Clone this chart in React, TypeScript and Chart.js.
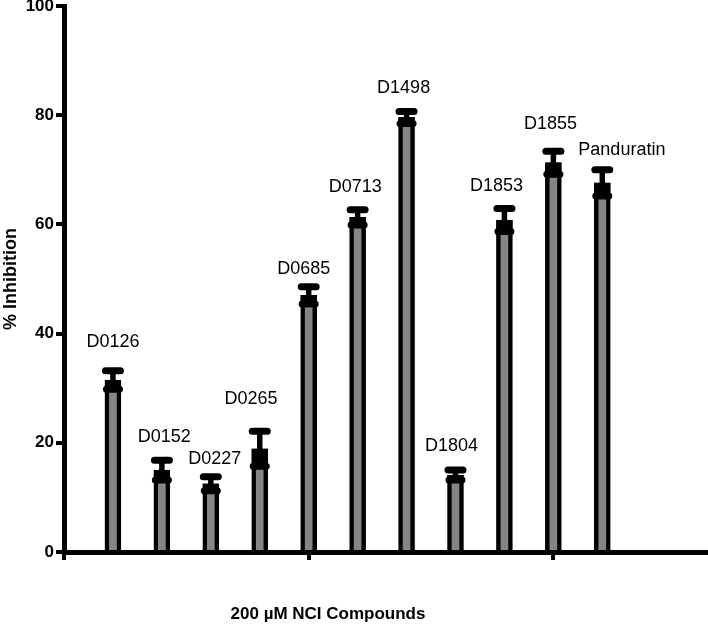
import { useEffect, useRef } from 'react';
import { Chart, registerables } from 'chart.js';

Chart.register(...registerables);

const FONT = '"Liberation Sans", Arial, Helvetica, sans-serif';

const categories = ['D0126', 'D0152', 'D0227', 'D0265', 'D0685', 'D0713', 'D1498', 'D1804', 'D1853', 'D1855', 'Panduratin'];
const xPositions = [1, 2, 3, 4, 5, 6, 7, 8, 9, 10, 11];
const means = [31.5, 15.0, 12.5, 18.9, 47.0, 61.3, 79.6, 14.1, 60.8, 71.3, 67.6];
const errors = [1.7, 1.8, 1.3, 3.2, 1.6, 1.4, 1.1, 0.9, 2.1, 2.1, 2.4];
const labelY = [38.5, 21.0, 17.0, 28.1, 51.9, 66.8, 84.9, 19.4, 67.1, 78.4, 73.6];
const labelShift = [0, 0.05, 0.08, -0.18, -0.1, -0.05, -0.06, -0.08, -0.16, -0.06, 0.4];
const yTicks = [0, 20, 40, 60, 80, 100];
const xTicks = [0, 5, 10];
const yTitle = '% Inhibition';
const xTitle = '200 \u00B5M NCI Compounds';

function cap(ctx: CanvasRenderingContext2D, cx: number, cy: number, w: number, h: number) {
  ctx.beginPath();
  ctx.roundRect(cx - w / 2, cy - h / 2, w, h, h / 2);
  ctx.fill();
}

export default function App() {
  const ref = useRef<HTMLCanvasElement>(null);

  useEffect(() => {
    if (!ref.current) return;
    const overlay = {
      id: 'overlay',
      afterDatasetsDraw(chart: any) {
        const { ctx } = chart;
        const x = chart.scales.x;
        const y = chart.scales.y;
        ctx.save();
        ctx.fillStyle = '#000';
        means.forEach((m, i) => {
          const px = x.getPixelForValue(xPositions[i]);
          const mid = y.getPixelForValue(m);
          const hi = y.getPixelForValue(m + errors[i]);
          const lo = y.getPixelForValue(m - errors[i]);
          ctx.fillRect(px - 2.75, hi, 5.5, mid - hi + 1);
          ctx.fillRect(px - 8, mid, 16, lo - mid);
          cap(ctx, px, hi, 22, 7);
          cap(ctx, px, lo, 20, 7);
          ctx.font = `18px ${FONT}`;
          ctx.textAlign = 'center';
          ctx.textBaseline = 'middle';
          ctx.fillText(categories[i], x.getPixelForValue(xPositions[i] + labelShift[i]), y.getPixelForValue(labelY[i]));
        });
        ctx.textAlign = 'center';
        ctx.textBaseline = 'middle';
        ctx.save();
        ctx.font = `bold 18px ${FONT}`;
        ctx.translate(11, (chart.chartArea.top + chart.chartArea.bottom) / 2);
        ctx.rotate(-Math.PI / 2);
        ctx.fillText(yTitle, 0, 0);
        ctx.restore();
        ctx.font = `bold 17px ${FONT}`;
        ctx.fillText(xTitle, 328, 614);
        ctx.restore();
      },
    };

    const chart = new Chart(ref.current, {
      type: 'bar',
      data: {
        datasets: [
          {
            data: means.map((m, i) => ({ x: xPositions[i], y: m })),
            backgroundColor: '#858585',
            borderColor: '#000',
            borderWidth: 4.5,
            barThickness: 16,
          },
        ],
      },
      options: {
        responsive: false,
        animation: false,
        devicePixelRatio: 1,
        layout: { padding: { top: 6, right: 0, bottom: 0, left: 0 } },
        plugins: { legend: { display: false }, tooltip: { enabled: false } },
        scales: {
          x: {
            type: 'linear',
            min: 0,
            max: 13.16,
            offset: false,
            afterBuildTicks: (s: any) => {
              s.ticks = xTicks.map((v) => ({ value: v }));
            },
            afterFit: (s: any) => {
              s.height = 85;
              s.paddingLeft = 0;
              s.paddingRight = 0;
            },
            ticks: { callback: () => '', padding: 0 },
            grid: { offset: false, drawOnChartArea: false, drawTicks: true, tickLength: 8, lineWidth: 4, color: '#000' },
            border: { display: true, width: 5, color: '#000' },
          },
          y: {
            min: 0,
            max: 100,
            afterBuildTicks: (s: any) => {
              s.ticks = yTicks.map((v) => ({ value: v }));
            },
            afterFit: (s: any) => {
              s.width = 64;
              s.paddingTop = 0;
              s.paddingBottom = 0;
            },
            ticks: { color: '#000', font: { family: FONT, size: 17, weight: 'bold' }, padding: 2 },
            grid: { drawOnChartArea: false, drawTicks: true, tickLength: 8, lineWidth: 4, color: '#000' },
            border: { display: true, width: 5, color: '#000' },
          },
        },
      },
      plugins: [overlay],
    } as any);
    return () => chart.destroy();
  }, []);

  return (
    <div style={{ position: 'absolute', left: 0, top: 0, width: 708, height: 637, background: '#fff' }}>
      <canvas ref={ref} width={708} height={637} style={{ width: 708, height: 637, display: 'block' }} />
    </div>
  );
}
